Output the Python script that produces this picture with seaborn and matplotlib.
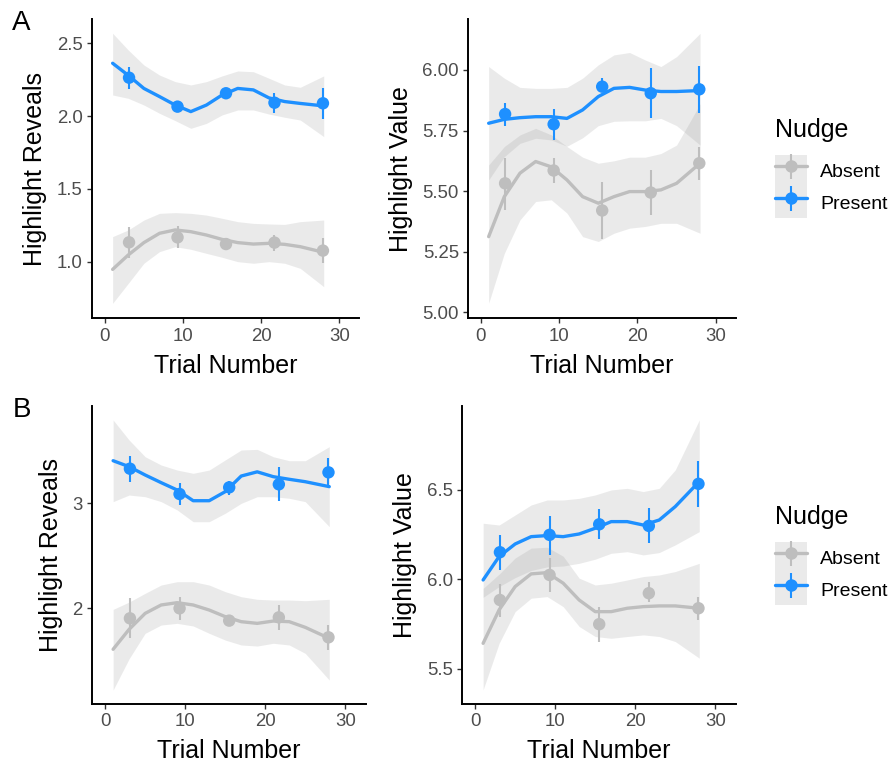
import numpy as np
import pandas as pd
import matplotlib
matplotlib.use("Agg")
import matplotlib.pyplot as plt
import seaborn as sns
from matplotlib.lines import Line2D
from matplotlib.patches import Patch

# ---------------- data ----------------
GROUPS = ["Absent", "Present"]
TRIAL_BIN = [3.1, 9.3, 15.5, 21.7, 27.9]
TRIAL_SMOOTH = [1, 3, 5, 7, 9, 11, 13, 15, 17, 19, 21, 23, 25, 28]

# Row A, Highlight Reveals
A_REV_ABS_MEAN = [1.133, 1.167, 1.121, 1.131, 1.076]
A_REV_ABS_LO = [1.023, 1.092, 1.092, 1.076, 0.989]
A_REV_ABS_HI = [1.240, 1.245, 1.149, 1.183, 1.160]
A_REV_PRE_MEAN = [2.264, 2.065, 2.157, 2.092, 2.088]
A_REV_PRE_LO = [2.184, 2.030, 2.120, 2.020, 1.978]
A_REV_PRE_HI = [2.340, 2.100, 2.180, 2.160, 2.195]
A_REV_ABS_FIT = [0.947, 1.046, 1.131, 1.195, 1.218, 1.206, 1.183, 1.153, 1.131, 1.121, 1.126, 1.119, 1.103, 1.064]
A_REV_ABS_FIT_LO = [0.714, 0.851, 0.989, 1.069, 1.103, 1.085, 1.057, 1.030, 1.000, 0.989, 1.000, 0.989, 0.954, 0.828]
A_REV_ABS_FIT_HI = [1.172, 1.218, 1.286, 1.332, 1.337, 1.332, 1.320, 1.298, 1.275, 1.263, 1.259, 1.256, 1.275, 1.286]
A_REV_PRE_FIT = [2.363, 2.280, 2.190, 2.134, 2.076, 2.031, 2.076, 2.145, 2.190, 2.180, 2.125, 2.100, 2.087, 2.070]
A_REV_PRE_FIT_LO = [2.145, 2.122, 2.076, 2.019, 1.969, 1.916, 1.950, 2.008, 2.042, 2.042, 2.014, 1.992, 1.973, 1.859]
A_REV_PRE_FIT_HI = [2.569, 2.454, 2.351, 2.282, 2.237, 2.214, 2.237, 2.276, 2.310, 2.305, 2.260, 2.214, 2.198, 2.276]

# Row A, Highlight Value
A_VAL_ABS_MEAN = [5.532, 5.585, 5.420, 5.494, 5.615]
A_VAL_ABS_LO = [5.422, 5.535, 5.303, 5.400, 5.546]
A_VAL_ABS_HI = [5.638, 5.635, 5.536, 5.587, 5.684]
A_VAL_PRE_MEAN = [5.818, 5.776, 5.931, 5.904, 5.920]
A_VAL_PRE_LO = [5.769, 5.711, 5.915, 5.800, 5.821]
A_VAL_PRE_HI = [5.865, 5.839, 5.966, 6.010, 6.017]
A_VAL_ABS_FIT = [5.312, 5.477, 5.574, 5.622, 5.600, 5.546, 5.477, 5.450, 5.477, 5.498, 5.498, 5.505, 5.532, 5.615]
A_VAL_ABS_FIT_LO = [5.037, 5.243, 5.381, 5.457, 5.464, 5.409, 5.312, 5.292, 5.326, 5.347, 5.354, 5.367, 5.367, 5.326]
A_VAL_ABS_FIT_HI = [5.608, 5.684, 5.732, 5.759, 5.732, 5.684, 5.640, 5.615, 5.625, 5.640, 5.640, 5.655, 5.690, 5.860]
A_VAL_PRE_FIT = [5.780, 5.796, 5.803, 5.807, 5.807, 5.800, 5.835, 5.890, 5.924, 5.928, 5.917, 5.911, 5.911, 5.915]
A_VAL_PRE_FIT_LO = [5.546, 5.642, 5.697, 5.718, 5.711, 5.685, 5.720, 5.770, 5.788, 5.790, 5.790, 5.800, 5.770, 5.690]
A_VAL_PRE_FIT_HI = [6.014, 5.966, 5.928, 5.924, 5.924, 5.928, 5.966, 6.021, 6.062, 6.072, 6.041, 6.014, 6.055, 6.151]

# Row B, Highlight Reveals
B_REV_ABS_MEAN = [1.905, 2.000, 1.883, 1.914, 1.724]
B_REV_ABS_LO = [1.714, 1.889, 1.840, 1.790, 1.600]
B_REV_ABS_HI = [2.095, 2.105, 1.920, 2.030, 1.840]
B_REV_PRE_MEAN = [3.330, 3.089, 3.152, 3.181, 3.295]
B_REV_PRE_LO = [3.206, 2.984, 3.079, 3.022, 3.159]
B_REV_PRE_HI = [3.451, 3.197, 3.216, 3.343, 3.429]
B_REV_ABS_FIT = [1.610, 1.800, 1.952, 2.032, 2.054, 2.032, 1.984, 1.921, 1.873, 1.857, 1.879, 1.873, 1.819, 1.714]
B_REV_ABS_FIT_LO = [1.222, 1.520, 1.762, 1.841, 1.857, 1.832, 1.762, 1.698, 1.651, 1.641, 1.667, 1.651, 1.571, 1.317]
B_REV_ABS_FIT_HI = [1.990, 2.060, 2.143, 2.222, 2.254, 2.254, 2.222, 2.159, 2.111, 2.086, 2.079, 2.079, 2.073, 2.086]
B_REV_PRE_FIT = [3.406, 3.349, 3.270, 3.197, 3.127, 3.025, 3.025, 3.111, 3.260, 3.300, 3.254, 3.229, 3.206, 3.159]
B_REV_PRE_FIT_LO = [3.016, 3.079, 3.063, 3.016, 2.937, 2.825, 2.825, 2.905, 3.000, 3.063, 3.063, 3.048, 3.016, 2.778]
B_REV_PRE_FIT_HI = [3.794, 3.603, 3.444, 3.365, 3.317, 3.286, 3.317, 3.413, 3.508, 3.514, 3.444, 3.406, 3.406, 3.540]

# Row B, Highlight Value
B_VAL_ABS_MEAN = [5.885, 6.025, 5.750, 5.923, 5.839]
B_VAL_ABS_LO = [5.792, 5.932, 5.649, 5.876, 5.774]
B_VAL_ABS_HI = [5.973, 6.118, 5.848, 5.988, 5.904]
B_VAL_PRE_MEAN = [6.152, 6.249, 6.308, 6.299, 6.534]
B_VAL_PRE_LO = [6.053, 6.137, 6.224, 6.202, 6.407]
B_VAL_PRE_HI = [6.249, 6.355, 6.392, 6.398, 6.664]
B_VAL_ABS_FIT = [5.643, 5.830, 5.960, 6.031, 6.038, 5.979, 5.885, 5.820, 5.820, 5.839, 5.848, 5.852, 5.852, 5.839]
B_VAL_ABS_FIT_LO = [5.383, 5.643, 5.820, 5.895, 5.904, 5.848, 5.737, 5.681, 5.671, 5.681, 5.690, 5.681, 5.653, 5.560]
B_VAL_ABS_FIT_HI = [5.950, 6.030, 6.120, 6.175, 6.180, 6.130, 6.007, 5.969, 5.979, 5.997, 6.016, 6.025, 6.044, 6.090]
B_VAL_PRE_FIT = [5.997, 6.128, 6.198, 6.239, 6.245, 6.239, 6.254, 6.286, 6.323, 6.323, 6.304, 6.332, 6.407, 6.547]
B_VAL_PRE_FIT_LO = [5.900, 5.960, 6.010, 6.050, 6.070, 6.075, 6.090, 6.113, 6.146, 6.155, 6.137, 6.150, 6.193, 6.267]
B_VAL_PRE_FIT_HI = [6.314, 6.304, 6.360, 6.416, 6.444, 6.444, 6.453, 6.472, 6.500, 6.509, 6.491, 6.509, 6.612, 6.891]

Y_LABELS = ["Highlight Reveals", "Highlight Value"]
X_LABEL = "Trial Number"
X_TICKS = [0, 10, 20, 30]
A_REV_TICKS = [1.0, 1.5, 2.0, 2.5]
A_VAL_TICKS = [5.00, 5.25, 5.50, 5.75, 6.00]
B_REV_TICKS = [2, 3]
B_VAL_TICKS = [5.5, 6.0, 6.5]

# ---------------- style ----------------
PAL = {"Absent": "#BEBEBE", "Present": "#1E90FF"}
BAND = "#999999"
BAND_ALPHA = 0.2
FONT = ["Liberation Sans", "DejaVu Sans"]

sns.set_theme(style="ticks")
plt.rcParams["font.family"] = FONT
plt.rcParams["text.color"] = "black"
plt.rcParams["axes.labelcolor"] = "black"

W, H = 894, 769
fig = plt.figure(figsize=(W / 100, H / 100), dpi=100)


def px_axes(left, top, right, bottom):
    return fig.add_axes([left / W, 1 - bottom / H, (right - left) / W, (bottom - top) / H])


def make_frames(pts, fits):
    prow, frow = [], []
    for g in GROUPS:
        m, lo, hi = pts[g]
        for x, a, b, c in zip(TRIAL_BIN, m, lo, hi):
            prow.append(dict(trial=x, value=a, lo=b, hi=c, Nudge=g))
        f, flo, fhi = fits[g]
        for x, a, b, c in zip(TRIAL_SMOOTH, f, flo, fhi):
            frow.append(dict(trial=x, fit=a, lo=b, hi=c, Nudge=g))
    return pd.DataFrame(prow), pd.DataFrame(frow)


def draw(ax, pts, fits, ylim, yticks, yfmt, ylabel):
    dp, df = make_frames(pts, fits)
    for g in GROUPS:
        s = df[df.Nudge == g]
        ax.fill_between(s.trial, s.lo, s.hi, color=BAND, alpha=BAND_ALPHA, lw=0, zorder=1)
    sns.lineplot(data=df, x="trial", y="fit", hue="Nudge", palette=PAL, hue_order=GROUPS,
                 lw=2.4, legend=False, ax=ax, sort=True, zorder=2, estimator=None)
    for g in GROUPS:
        s = dp[dp.Nudge == g]
        ax.vlines(s.trial, s.lo, s.hi, colors=PAL[g], lw=1.5, zorder=3)
    sns.scatterplot(data=dp, x="trial", y="value", hue="Nudge", palette=PAL, hue_order=GROUPS,
                    s=80, edgecolor="none", linewidth=0, legend=False, ax=ax, zorder=4)
    ax.set_xlim(-1.6, 32.55)
    ax.set_ylim(*ylim)
    ax.set_xticks(X_TICKS)
    ax.set_yticks(yticks)
    ax.set_yticklabels([yfmt.format(v) for v in yticks])
    ax.set_xlabel(X_LABEL, fontsize=18, labelpad=6.5, color="black")
    ax.set_ylabel(ylabel, fontsize=18, labelpad=7, color="black")
    ax.tick_params(axis="both", labelsize=13.4, colors="#333333", labelcolor="#4D4D4D",
                   length=3.3, width=1.0, pad=3.5)
    for sp in ["left", "bottom"]:
        ax.spines[sp].set_linewidth(1.4)
        ax.spines[sp].set_color("black")
    sns.despine(ax=ax)
    ax.grid(False)


def pack(m, lo, hi):
    return (m, lo, hi)


ax1 = px_axes(92.3, 19.3, 359.3, 318.3)
draw(ax1,
     {"Absent": pack(A_REV_ABS_MEAN, A_REV_ABS_LO, A_REV_ABS_HI),
      "Present": pack(A_REV_PRE_MEAN, A_REV_PRE_LO, A_REV_PRE_HI)},
     {"Absent": pack(A_REV_ABS_FIT, A_REV_ABS_FIT_LO, A_REV_ABS_FIT_HI),
      "Present": pack(A_REV_PRE_FIT, A_REV_PRE_FIT_LO, A_REV_PRE_FIT_HI)},
     (0.611, 2.665), A_REV_TICKS, "{:.1f}", Y_LABELS[0])

ax2 = px_axes(468.3, 19.3, 735.7, 318.3)
draw(ax2,
     {"Absent": pack(A_VAL_ABS_MEAN, A_VAL_ABS_LO, A_VAL_ABS_HI),
      "Present": pack(A_VAL_PRE_MEAN, A_VAL_PRE_LO, A_VAL_PRE_HI)},
     {"Absent": pack(A_VAL_ABS_FIT, A_VAL_ABS_FIT_LO, A_VAL_ABS_FIT_HI),
      "Present": pack(A_VAL_PRE_FIT, A_VAL_PRE_FIT_LO, A_VAL_PRE_FIT_HI)},
     (4.975, 6.209), A_VAL_TICKS, "{:.2f}", Y_LABELS[1])

ax3 = px_axes(92.3, 406, 365.7, 704)
draw(ax3,
     {"Absent": pack(B_REV_ABS_MEAN, B_REV_ABS_LO, B_REV_ABS_HI),
      "Present": pack(B_REV_PRE_MEAN, B_REV_PRE_LO, B_REV_PRE_HI)},
     {"Absent": pack(B_REV_ABS_FIT, B_REV_ABS_FIT_LO, B_REV_ABS_FIT_HI),
      "Present": pack(B_REV_PRE_FIT, B_REV_PRE_FIT_LO, B_REV_PRE_FIT_HI)},
     (1.089, 3.927), B_REV_TICKS, "{:.0f}", Y_LABELS[0])

ax4 = px_axes(462.3, 406, 735.7, 704)
draw(ax4,
     {"Absent": pack(B_VAL_ABS_MEAN, B_VAL_ABS_LO, B_VAL_ABS_HI),
      "Present": pack(B_VAL_PRE_MEAN, B_VAL_PRE_LO, B_VAL_PRE_HI)},
     {"Absent": pack(B_VAL_ABS_FIT, B_VAL_ABS_FIT_LO, B_VAL_ABS_FIT_HI),
      "Present": pack(B_VAL_PRE_FIT, B_VAL_PRE_FIT_LO, B_VAL_PRE_FIT_HI)},
     (5.304, 6.969), B_VAL_TICKS, "{:.1f}", Y_LABELS[1])

# panel letters
fig.text(12 / W, 1 - 30 / H, "A", fontsize=20, va="baseline", ha="left", color="black")
fig.text(13 / W, 1 - 416.7 / H, "B", fontsize=20, va="baseline", ha="left", color="black")


# legends
def handles():
    out = []
    for g in GROUPS:
        out.append((Patch(facecolor=BAND, alpha=BAND_ALPHA, edgecolor="none"),
                    Line2D([], [], color=PAL[g], lw=2.4),
                    Line2D([], [], color=PAL[g], marker="|", markersize=18, markeredgewidth=1.5,
                           linestyle="none"),
                    Line2D([], [], color=PAL[g], marker="o", markersize=9, markeredgewidth=0,
                           linestyle="none")))
    return out


for title_base, key_top in [(136.7, 155.0), (523.7, 542.0)]:
    fig.text(775 / W, 1 - title_base / H, "Nudge", fontsize=18, va="baseline", ha="left",
             color="black")
    leg = fig.legend(handles(), GROUPS, loc="upper left", bbox_to_anchor=(775 / W, 1 - key_top / H),
                     frameon=False, borderpad=0, borderaxespad=0, fontsize=14,
                     handlelength=1.63, handleheight=2.13, labelspacing=0, handletextpad=0.68)
    for t in leg.get_texts():
        t.set_color("black")

fig.savefig("out.png", dpi=100, facecolor="white")
